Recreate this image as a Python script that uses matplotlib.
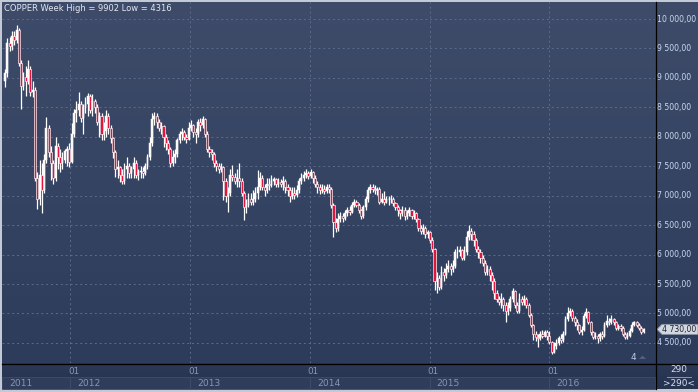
import matplotlib
matplotlib.use("Agg")
import matplotlib.pyplot as plt
import matplotlib.dates as mdates
from matplotlib.patches import Rectangle, Polygon
from matplotlib.lines import Line2D
from matplotlib.transforms import blended_transform_factory
import numpy as np
import pandas as pd

# ---------------- data ----------------
symbol = "COPPER"
period = "Week"
first_week = "2011-06-17"
first_open = 8950
closes = [
    9080, 9600, 9550, 9720, 9650, 9820, 9250, 8870, 9020, 8950,
    9150, 8760, 8800, 7300, 6950, 7350, 7100, 7600, 8150, 7750,
    7550, 7300, 7850, 7650, 7550, 7600, 7760, 7800, 7580, 8050,
    8400, 8450, 8550, 8320, 8500, 8550, 8700, 8450, 8600, 8500,
    8250, 8350, 8050, 8100, 8350, 8150, 7980, 7750, 7450, 7480,
    7350, 7250, 7450, 7500, 7380, 7450, 7550, 7350, 7400, 7420,
    7380, 7500, 7650, 7900, 8300, 8350, 8250, 8150, 8180, 8000,
    7900, 7800, 7560, 7650, 7700, 7950, 8050, 8080, 8000, 7970,
    8150, 8200, 8080, 8050, 8250, 8200, 8300, 8050, 7800, 7750,
    7700, 7550, 7500, 7450, 7480, 7250, 7000, 7050, 7350, 7320,
    7250, 7300, 7250, 7050, 6800, 6850, 6950, 6900, 6950, 7050,
    7150, 7300, 7150, 7100, 7200, 7180, 7250, 7280, 7200, 7230,
    7200, 7250, 7150, 7100, 7000, 7050, 7020, 7100, 7250, 7300,
    7350, 7380, 7330, 7400, 7300, 7200, 7150, 7100, 7120, 7080,
    7150, 7120, 6850, 6550, 6450, 6600, 6650, 6620, 6700, 6750,
    6720, 6850, 6900, 6850, 6750, 6650, 6800, 6950, 7100, 7150,
    7120, 7100, 7120, 6900, 6950, 6900, 6950, 6950, 6950, 6880,
    6800, 6750, 6700, 6750, 6650, 6700, 6750, 6650, 6700, 6600,
    6450, 6400, 6450, 6350, 6380, 6250, 6100, 5550, 5600, 5450,
    5700, 5650, 5750, 5800, 5750, 5800, 6050, 6050, 6080, 5950,
    6050, 6300, 6400, 6350, 6250, 6100, 6050, 5950, 5850, 5700,
    5750, 5650, 5550, 5350, 5250, 5200, 5250, 5150, 5050, 5100,
    5250, 5380, 5150, 5050, 5250, 5200, 5250, 5150, 4980, 4800,
    4650, 4600, 4580, 4650, 4620, 4680, 4620, 4520, 4340, 4450,
    4500, 4580, 4550, 4650, 4900, 5000, 5050, 4920, 4850, 4800,
    4680, 4720, 4950, 5020, 4850, 4680, 4600, 4620, 4580, 4650,
    4620, 4800, 4880, 4850, 4900, 4850, 4750, 4780, 4760, 4650,
    4600, 4620, 4700, 4800, 4850, 4800, 4760, 4680, 4730,
]
highs = [
    9150, 9680, 9700, 9800, 9790, 9902, 9850, 9300, 9100, 9200,
    9300, 9200, 8950, 8850, 7400, 7600, 7550, 7700, 8330, 8200,
    7850, 7600, 8000, 7900, 7800, 7750, 7800, 7850, 7900, 8230,
    8480, 8600, 8760, 8600, 8560, 8680, 8750, 8720, 8720, 8650,
    8550, 8420, 8400, 8250, 8450, 8400, 8200, 8000, 7780, 7600,
    7500, 7450, 7560, 7650, 7550, 7500, 7650, 7600, 7450, 7500,
    7480, 7550, 7700, 8000, 8400, 8420, 8400, 8300, 8250, 8200,
    8050, 7950, 7820, 7780, 7800, 7980, 8100, 8150, 8120, 8050,
    8250, 8280, 8220, 8150, 8300, 8320, 8350, 8320, 8100, 7850,
    7800, 7750, 7600, 7550, 7550, 7500, 7300, 7150, 7450, 7520,
    7380, 7450, 7550, 7300, 7080, 6950, 7050, 7050, 7100, 7150,
    7430, 7400, 7350, 7200, 7300, 7300, 7350, 7320, 7300, 7300,
    7280, 7330, 7280, 7200, 7150, 7150, 7150, 7180, 7300, 7380,
    7420, 7450, 7420, 7450, 7420, 7350, 7250, 7200, 7200, 7180,
    7200, 7200, 7150, 6870, 6620, 6700, 6720, 6700, 6760, 6800,
    6820, 6900, 6950, 6930, 6880, 6780, 6850, 7000, 7150, 7200,
    7200, 7180, 7150, 7150, 7050, 7080, 7000, 7000, 7020, 6980,
    6900, 6850, 6780, 6820, 6800, 6750, 6800, 6780, 6750, 6720,
    6620, 6500, 6520, 6480, 6420, 6400, 6300, 6120, 5700, 5650,
    5800, 5780, 5850, 5900, 5850, 5900, 6100, 6150, 6150, 6100,
    6150, 6400, 6500, 6450, 6400, 6280, 6150, 6100, 6000, 5900,
    5820, 5800, 5700, 5600, 5400, 5300, 5350, 5280, 5200, 5200,
    5300, 5430, 5400, 5200, 5350, 5300, 5320, 5280, 5180, 5010,
    4820, 4700, 4650, 4700, 4720, 4720, 4720, 4700, 4540, 4520,
    4560, 4620, 4650, 4700, 4950, 5110, 5100, 5080, 4950, 4900,
    4820, 4780, 5000, 5100, 5050, 4870, 4700, 4680, 4650, 4680,
    4700, 4850, 4970, 4920, 4970, 4930, 4870, 4820, 4820, 4780,
    4680, 4680, 4760, 4850, 4880, 4870, 4830, 4780, 4760,
]
lows = [
    8850, 9020, 9450, 9480, 9560, 9600, 9200, 8470, 8800, 8700,
    8900, 8700, 8680, 7250, 6780, 6850, 6700, 7050, 7550, 7650,
    7270, 7200, 7250, 7450, 7400, 7450, 7550, 7500, 7480, 7550,
    8000, 8250, 8350, 8250, 8050, 8400, 8350, 8400, 8350, 8400,
    8200, 8000, 7950, 7950, 8000, 8050, 7900, 7640, 7320, 7300,
    7230, 7200, 7200, 7300, 7300, 7300, 7300, 7300, 7270, 7300,
    7300, 7350, 7450, 7600, 7850, 8200, 8150, 8100, 8050, 7830,
    7780, 7700, 7490, 7500, 7550, 7650, 7900, 7950, 7950, 7900,
    7950, 8100, 8000, 7900, 8000, 8100, 8150, 8000, 7750, 7650,
    7600, 7480, 7420, 7380, 7400, 6930, 6900, 6720, 7000, 7250,
    7200, 7150, 7150, 7000, 6590, 6700, 6800, 6850, 6850, 6900,
    6950, 7100, 7100, 7000, 7050, 7100, 7150, 7180, 7150, 7150,
    7150, 7100, 7050, 7000, 6890, 6950, 6950, 6980, 7050, 7200,
    7250, 7300, 7280, 7300, 7220, 7150, 7050, 7030, 7050, 7030,
    7050, 7050, 6790, 6300, 6380, 6400, 6550, 6550, 6580, 6650,
    6680, 6700, 6800, 6800, 6700, 6600, 6620, 6750, 6900, 7050,
    7060, 7030, 7020, 6860, 6880, 6850, 6880, 6850, 6880, 6820,
    6750, 6650, 6600, 6650, 6580, 6600, 6650, 6600, 6600, 6550,
    6400, 6350, 6350, 6280, 6280, 6200, 6050, 5400, 5340, 5400,
    5420, 5550, 5600, 5700, 5650, 5700, 5780, 5950, 5980, 5900,
    5900, 6000, 6250, 6250, 6150, 6050, 5950, 5850, 5800, 5650,
    5650, 5550, 5400, 5250, 5200, 5150, 5100, 5050, 4850, 4980,
    5050, 5200, 5100, 5000, 5000, 5150, 5150, 5100, 4940, 4770,
    4550, 4530, 4430, 4550, 4580, 4600, 4550, 4480, 4316, 4330,
    4400, 4460, 4500, 4520, 4640, 4880, 4950, 4880, 4780, 4720,
    4650, 4640, 4700, 4920, 4820, 4640, 4560, 4560, 4500, 4540,
    4560, 4600, 4770, 4800, 4820, 4800, 4720, 4720, 4700, 4620,
    4570, 4570, 4600, 4680, 4780, 4770, 4720, 4650, 4660,
]
y_ticks = [4500, 5000, 5500, 6000, 6500, 7000, 7500, 8000, 8500, 9000, 9500, 10000]
year_starts = ["2012-01-01", "2013-01-01", "2014-01-01", "2015-01-01", "2016-01-01"]
year_labels = ["2011", "2012", "2013", "2014", "2015", "2016"]
month_label = "01"
bars_label = "290"
bars_label2 = ">290<"
counter_label = "4"

# ---------------- prep ----------------
closes_a = np.array(closes, float)
opens_a = np.concatenate([[first_open], closes_a[:-1]])
highs_a = np.maximum(np.array(highs, float), np.maximum(opens_a, closes_a))
lows_a = np.minimum(np.array(lows, float), np.minimum(opens_a, closes_a))
dates = pd.date_range(first_week, periods=len(closes), freq="7D")
xd = mdates.date2num(dates.to_pydatetime())

W, H = 698, 392
fig = plt.figure(figsize=(W / 100, H / 100), dpi=100, facecolor="#c3cad5")

def px_axes(x0, y0, x1, y1, z=0):
    a = fig.add_axes([x0 / W, 1 - y1 / H, (x1 - x0) / W, (y1 - y0) / H], zorder=z)
    a.set_axis_off()
    return a

def gradient(a, top, bottom):
    c0 = np.array(matplotlib.colors.to_rgb(top))
    c1 = np.array(matplotlib.colors.to_rgb(bottom))
    t = np.linspace(0, 1, 256)[:, None]
    img = (c0[None, :] * (1 - t) + c1[None, :] * t)[:, None, :]
    a.imshow(img, extent=[0, 1, 0, 1], transform=a.transAxes, aspect="auto", zorder=0)

BG_TOP, BG_BOT = "#3e4c6a", "#2e3c5c"
ax = px_axes(2, 2, 655, 363, z=1)
rax = px_axes(655, 2, 698, 363, z=1)
bax = px_axes(2, 363, 655, 389, z=1)
cax = px_axes(655, 363, 698, 389, z=1)
gradient(ax, BG_TOP, BG_BOT)
gradient(rax, BG_TOP, BG_BOT)
gradient(bax, "#2b3957", "#26334f")
gradient(cax, "#2b3957", "#26334f")

x0 = mdates.date2num(pd.Timestamp("2012-01-01").to_pydatetime())
XL = (x0 - 207.3, x0 + 1783.0)
YL = (4159, 10289)
for a in (ax, rax):
    a.set_ylim(*YL)
ax.set_xlim(*XL)
bax.set_xlim(*XL)
rax.set_xlim(0, 1)

GRID = "#5d6c8c"
for yt in y_ticks:
    ax.axhline(yt, color=GRID, lw=0.7, ls=(0, (2, 3)), zorder=1)
jan = mdates.date2num([pd.Timestamp(s).to_pydatetime() for s in year_starts])
for xv in jan:
    ax.axvline(xv, color=GRID, lw=0.7, ls=(0, (2, 3)), zorder=1)

# candles
up = closes_a >= opens_a
ax.vlines(xd, lows_a, highs_a, color="white", lw=0.9, zorder=2)
body_lo = np.minimum(opens_a, closes_a)
body_h = np.abs(closes_a - opens_a)
ax.bar(xd[up], body_h[up], bottom=body_lo[up], width=5.5, color="#fbf6f2",
       edgecolor="white", lw=0.35, zorder=3)
ax.bar(xd[~up], body_h[~up], bottom=body_lo[~up], width=6.5, color="#e3153f",
       edgecolor="white", lw=0.45, zorder=4)
ax.set_ylim(*YL)
ax.set_xlim(*XL)

# title
title = f"{symbol} {period} High = {max(highs):.0f} Low = {min(lows):.0f}"
fig.text(4 / W, 1 - 8.5 / H, title, color="#e2e8f2", fontsize=6.0,
         family="DejaVu Sans", va="center", ha="left", zorder=5)

# right axis labels
tr = blended_transform_factory(rax.transAxes, rax.transData)
def fmt(v):
    return f"{v:,.2f}".replace(",", " ").replace(".", ",")
for yt in y_ticks:
    rax.text(0.05, yt, fmt(yt), transform=tr, color="#c9d9f0", fontsize=5.6,
             va="center", ha="left", clip_on=False)

# overlay in pixel coordinates
ov = fig.add_axes([0, 0, 1, 1], zorder=10)
ov.set_xlim(0, W)
ov.set_ylim(H, 0)
ov.set_axis_off()
ov.patch.set_alpha(0)

ov.add_line(Line2D([655.5, 655.5], [2, 389], color="black", lw=0.9))
ov.add_line(Line2D([2, 698], [363.5, 363.5], color="black", lw=0.9))

# last price tag
fig.canvas.draw()
last_y = H - ax.transData.transform((xd[-1], closes_a[-1]))[1]
tag = Polygon([(657, last_y), (662, last_y - 5), (698, last_y - 5),
               (698, last_y + 5), (662, last_y + 5)], closed=True,
              facecolor="#d3d7df", edgecolor="#8e96a4", lw=0.6)
ov.add_patch(tag)
ov.text(662.5, last_y + 0.3, fmt(closes_a[-1]), color="#1e2430", fontsize=5.6,
        va="center", ha="left")

ov.text(633, 357, counter_label, color="#b9cdea", fontsize=6.5, va="center", ha="center")
ov.add_patch(Polygon([(639, 359), (642.5, 355.5), (646, 359)], closed=True,
                     facecolor="#52607c", edgecolor="none"))

# bottom time axis
jan_px = [ax.transData.transform((v, 0))[0] for v in jan]
edges = [2] + jan_px + [655]
for i, lab in enumerate(year_labels):
    l, r = edges[i], edges[i + 1]
    ov.add_patch(Rectangle((l, 376.5), r - l, 12.5, facecolor="#2f3d5a",
                           edgecolor="#3f4d6b", lw=0.6))
    ov.text(l + 7, 383, lab, color="#8796b2", fontsize=6.6, va="center", ha="left")
for p in jan_px:
    ov.text(p - 2, 371, month_label, color="#8796b2", fontsize=6.4, va="center", ha="left")

ov.text(679, 369.5, bars_label, color="#d5e0f2", fontsize=6.4, va="center", ha="center")
ov.add_line(Line2D([667, 691], [376.5, 376.5], color="#8a97b0", lw=0.7))
ov.text(679, 383, bars_label2, color="#d5e0f2", fontsize=6.4, va="center", ha="center")

fig.savefig("out.png", dpi=100, facecolor=fig.get_facecolor())
